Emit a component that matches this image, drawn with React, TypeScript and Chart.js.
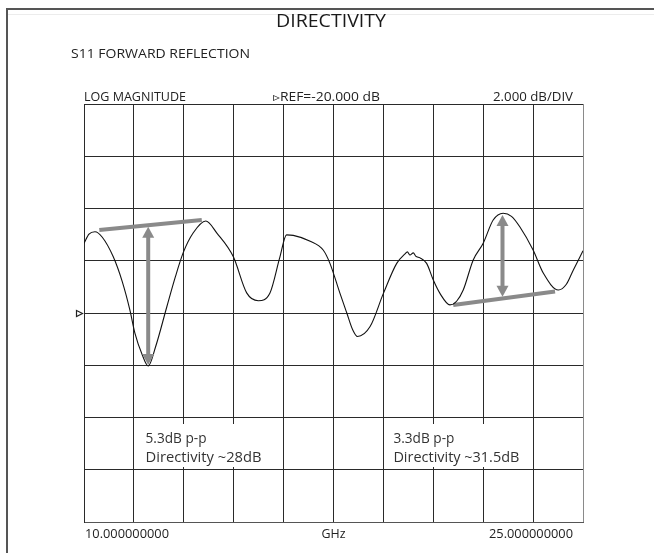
import React, { useEffect, useRef } from "react";
import { Chart, registerables } from "chart.js";

Chart.register(...registerables);

// ---- data ----
const freqGHz = [
  10.0, 10.15, 10.33, 10.55, 10.88, 11.15, 11.38, 11.53, 11.75, 11.93, 12.15, 12.49, 12.75, 12.98,
  13.28, 13.66, 14.0, 14.49, 14.89, 15.24, 15.59, 15.89, 16.09, 16.29, 16.8, 17.19, 17.39, 17.69,
  17.9, 18.08, 18.22, 18.6, 19.0, 19.4, 19.65, 19.72, 19.8, 19.9, 19.97, 20.1, 20.3, 20.5, 20.7, 21.0,
  21.2, 21.4, 21.7, 22.0, 22.3, 22.6, 22.85, 23.1, 23.5, 23.81, 24.26, 24.5, 24.71, 25.0,
];
const s11dB = [
  -17.33, -16.98, -16.89, -17.1, -17.85, -18.8, -19.89, -20.77, -21.6, -22.03, -21.3, -19.76, -18.6,
  -17.7, -16.94, -16.48, -16.95, -17.85, -19.23, -19.53, -19.23, -17.85, -17.01, -17.03, -17.25,
  -17.59, -18.09, -19.23, -20.0, -20.65, -20.9, -20.52, -19.25, -18.1, -17.74, -17.66, -17.78, -17.7,
  -17.82, -17.89, -18.1, -18.74, -19.25, -19.69, -19.55, -19.12, -17.97, -17.33, -16.44, -16.18,
  -16.3, -16.7, -17.59, -18.48, -19.12, -18.9, -18.35, -17.62,
];

const xMinGHz = 10;
const xMaxGHz = 25;
const xStepGHz = 1.5;
const refDB = -20;
const dbPerDiv = 2;
const yMinDB = -28;
const yMaxDB = -12;

const titleText = "DIRECTIVITY";
const subtitleText = "S11 FORWARD REFLECTION";
const headerLeft = "LOG MAGNITUDE";
const headerMid = "\u25B9REF=-20.000 dB";
const headerRight = "2.000 dB/DIV";
const footerLeft = "10.000000000";
const footerMid = "GHz";
const footerRight = "25.000000000";

// annotation marks (GHz, dB)
const leftEnvelopeGHz = [10.46, 13.54];
const leftEnvelopeDB = [-16.82, -16.44];
const leftArrowGHz = 11.93;
const leftArrowDB = [-16.7, -21.99];
const rightEnvelopeGHz = [21.1, 24.16];
const rightEnvelopeDB = [-19.69, -19.18];
const rightArrowGHz = 22.58;
const rightArrowDB = [-16.25, -19.38];

const leftNote = ["5.3dB p-p", "Directivity ~28dB"];
const rightNote = ["3.3dB p-p", "Directivity ~31.5dB"];
const leftNoteGHz = 11.85;
const rightNoteGHz = 19.3;

const FONT = "'Open Sans', 'Noto Sans', sans-serif";

function fitText(
  ctx: CanvasRenderingContext2D,
  text: string,
  x: number,
  y: number,
  size: number,
  width: number,
  align: "left" | "center" | "right",
  color: string
) {
  ctx.save();
  ctx.font = `${size}px ${FONT}`;
  ctx.fillStyle = color;
  ctx.textBaseline = "alphabetic";
  ctx.textAlign = "left";
  const w = ctx.measureText(text).width;
  const sx = width / w;
  let x0 = x;
  if (align === "center") x0 = x - width / 2;
  if (align === "right") x0 = x - width;
  ctx.translate(x0, y);
  ctx.scale(sx, 1);
  ctx.fillText(text, 0, 0);
  ctx.restore();
}

const decorPlugin = {
  id: "decor",
  afterDatasetsDraw(chart: any) {
    const ctx: CanvasRenderingContext2D = chart.ctx;
    const xs = chart.scales.x;
    const ys = chart.scales.y;
    const drawArrow = (g: number, dbs: number[]) => {
      const x = xs.getPixelForValue(g);
      const yTop = ys.getPixelForValue(dbs[0]);
      const yBot = ys.getPixelForValue(dbs[1]);
      const hw = 6;
      const hh = 11;
      ctx.save();
      ctx.strokeStyle = "#8a8a8a";
      ctx.fillStyle = "#8a8a8a";
      ctx.lineWidth = 4;
      ctx.beginPath();
      ctx.moveTo(x, yTop + hh - 1);
      ctx.lineTo(x, yBot - hh + 1);
      ctx.stroke();
      ctx.beginPath();
      ctx.moveTo(x, yTop);
      ctx.lineTo(x - hw, yTop + hh);
      ctx.lineTo(x + hw, yTop + hh);
      ctx.closePath();
      ctx.fill();
      ctx.beginPath();
      ctx.moveTo(x, yBot);
      ctx.lineTo(x - hw, yBot - hh);
      ctx.lineTo(x + hw, yBot - hh);
      ctx.closePath();
      ctx.fill();
      ctx.restore();
    };
    drawArrow(leftArrowGHz, leftArrowDB);
    drawArrow(rightArrowGHz, rightArrowDB);
  },
  afterDraw(chart: any) {
    const ctx: CanvasRenderingContext2D = chart.ctx;
    const area = chart.chartArea;
    const xs = chart.scales.x;
    const ys = chart.scales.y;
    // outer frame
    ctx.save();
    ctx.fillStyle = "#555";
    ctx.fillRect(6, 8, 648, 2);
    ctx.fillRect(6, 8, 2, 545);
    ctx.fillStyle = "#ececec";
    ctx.fillRect(8, 14, 646, 1);
    ctx.restore();

    // titles
    fitText(ctx, titleText, 331, 27, 19, 110, "center", "#1a1a1a");
    fitText(ctx, subtitleText, 71, 58, 13, 179, "left", "#222");
    fitText(ctx, headerLeft, area.left, area.top - 3, 12, 102, "left", "#222");
    fitText(ctx, headerMid, 273, area.top - 3, 12, 107, "left", "#222");
    fitText(ctx, headerRight, area.right - 10, area.top - 3, 12, 80, "right", "#222");
    fitText(ctx, footerLeft, area.left + 1, area.bottom + 16, 12, 84, "left", "#222");
    fitText(ctx, footerMid, (area.left + area.right) / 2, area.bottom + 16, 12, 24, "center", "#222");
    fitText(ctx, footerRight, area.right - 10, area.bottom + 16, 12, 84, "right", "#222");

    // notes (on white boxes that hide the vertical grid behind them)
    const nx1 = xs.getPixelForValue(leftNoteGHz);
    const nx2 = xs.getPixelForValue(rightNoteGHz);
    ctx.save();
    ctx.fillStyle = "#fff";
    ctx.fillRect(nx1 - 1, 424, 121, 43);
    ctx.fillRect(nx2 - 1, 424, 131, 43);
    ctx.restore();
    fitText(ctx, leftNote[0], nx1, 443, 14, 61, "left", "#333");
    fitText(ctx, leftNote[1], nx1, 462, 14, 116, "left", "#333");
    fitText(ctx, rightNote[0], nx2, 443, 14, 61, "left", "#333");
    fitText(ctx, rightNote[1], nx2, 462, 14, 126, "left", "#333");

    // reference marker
    const ry = Math.round(ys.getPixelForValue(refDB)) + 0.5;
    const rx = area.left - 7.5;
    ctx.save();
    ctx.strokeStyle = "#222";
    ctx.lineWidth = 1.2;
    ctx.beginPath();
    ctx.moveTo(rx, ry - 3);
    ctx.lineTo(rx + 6, ry);
    ctx.lineTo(rx, ry + 3);
    ctx.closePath();
    ctx.stroke();
    ctx.restore();
  },
};

export default function App() {
  const ref = useRef<HTMLCanvasElement | null>(null);
  useEffect(() => {
    if (!ref.current) return;
    const chart = new Chart(ref.current, {
      type: "line",
      data: {
        datasets: [
          {
            label: "S11",
            data: freqGHz.map((f, i) => ({ x: f, y: s11dB[i] })),
            borderColor: "#111",
            borderWidth: 1.1,
            pointRadius: 0,
            cubicInterpolationMode: "monotone",
            fill: false,
          },
          {
            label: "env1",
            data: leftEnvelopeGHz.map((f, i) => ({ x: f, y: leftEnvelopeDB[i] })),
            borderColor: "#8a8a8a",
            borderWidth: 4,
            pointRadius: 0,
            fill: false,
          },
          {
            label: "env2",
            data: rightEnvelopeGHz.map((f, i) => ({ x: f, y: rightEnvelopeDB[i] })),
            borderColor: "#8a8a8a",
            borderWidth: 4,
            pointRadius: 0,
            fill: false,
          },
        ],
      },
      options: {
        animation: false,
        responsive: false,
        maintainAspectRatio: false,
        layout: { padding: { left: 84, top: 104, right: 71, bottom: 31 } },
        plugins: { legend: { display: false }, tooltip: { enabled: false }, title: { display: false } },
        scales: {
          x: {
            type: "linear",
            min: xMinGHz,
            max: xMaxGHz,
            ticks: { display: false, stepSize: xStepGHz },
            grid: {
              drawTicks: false,
              tickLength: 0,
              color: (c: any) => (c.tick && c.tick.value === xMaxGHz ? "#8a8a8a" : "#2a2a2a"),
              lineWidth: 1,
            },
            border: { display: true, color: "#555", width: 1 },
          },
          y: {
            type: "linear",
            min: yMinDB,
            max: yMaxDB,
            ticks: { display: false, stepSize: dbPerDiv },
            grid: { drawTicks: false, tickLength: 0, color: "#2a2a2a", lineWidth: 1 },
            border: { display: true, color: "#2a2a2a", width: 1 },
          },
        },
      },
      plugins: [decorPlugin],
    });
    return () => chart.destroy();
  }, []);
  return (
    <div style={{ position: "absolute", left: 0, top: 0, width: 654, height: 553, background: "#fff" }}>
      <canvas ref={ref} width={654} height={553} style={{ display: "block" }} />
    </div>
  );
}
